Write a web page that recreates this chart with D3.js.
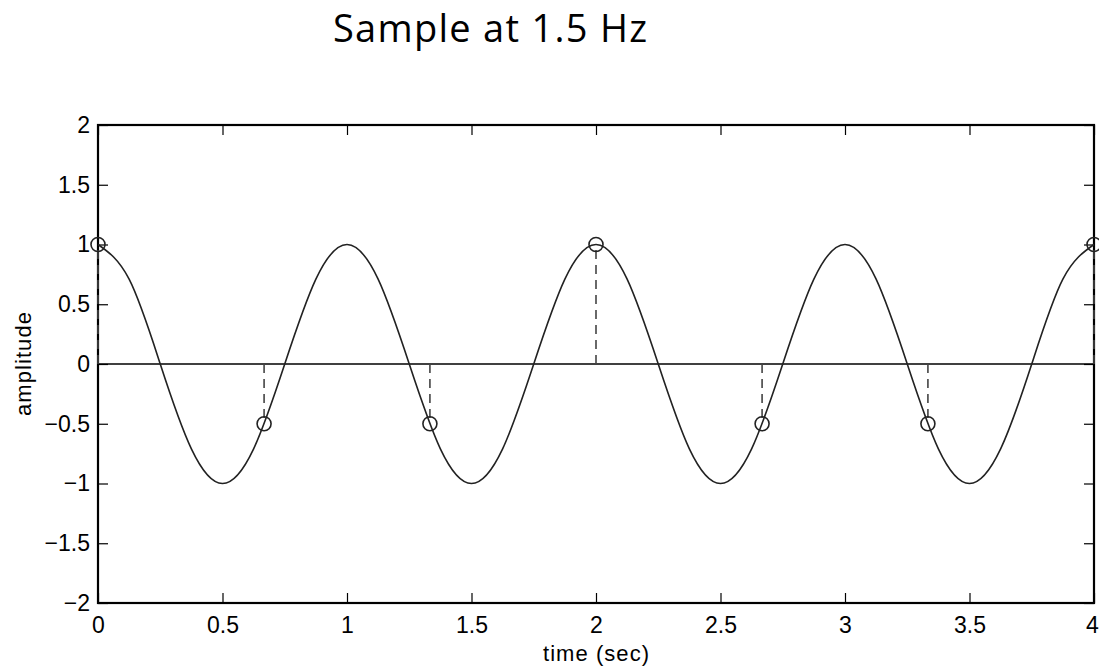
<!DOCTYPE html>
<html>
<head>
<meta charset="utf-8">
<script src="https://cdn.jsdelivr.net/npm/d3@7"></script>
<style>
  body { margin: 0; background: #fff; }
  svg text { font-family: "Liberation Sans", Arial, sans-serif; }
</style>
</head>
<body>
<div id="chart"></div>
<script>
// Continuous signal, every 0.125 s
const curveTimes = [0, 0.125, 0.25, 0.375, 0.5, 0.625, 0.75, 0.875,
    1, 1.125, 1.25, 1.375, 1.5, 1.625, 1.75, 1.875,
    2, 2.125, 2.25, 2.375, 2.5, 2.625, 2.75, 2.875,
    3, 3.125, 3.25, 3.375, 3.5, 3.625, 3.75, 3.875, 4];
const curveValues = [1, 0.71, 0, -0.71, -1, -0.71, 0, 0.71,
    1, 0.71, 0, -0.71, -1, -0.71, 0, 0.71,
    1, 0.71, 0, -0.71, -1, -0.71, 0, 0.71,
    1, 0.71, 0, -0.71, -1, -0.71, 0, 0.71, 1];

// Samples (circles + dashed stems)
const sampleTimes = [0, 0.667, 1.333, 2, 2.667, 3.333, 4];
const sampleValues = [1, -0.5, -0.5, 1, -0.5, -0.5, 1];

const xTicks = [0, 0.5, 1, 1.5, 2, 2.5, 3, 3.5, 4];
const yTicks = [-2, -1.5, -1, -0.5, 0, 0.5, 1, 1.5, 2];

const W = 1099, H = 670;
const plot = { left: 98, right: 1094, top: 125, bottom: 603 };

const svg = d3.select('#chart').append('svg')
    .attr('width', W)
    .attr('height', H);

const x = d3.scaleLinear().domain([0, 4]).range([plot.left, plot.right]);
const y = d3.scaleLinear().domain([-2, 2]).range([plot.bottom, plot.top]);

const fmt = d => (d < 0 ? '\u2212' + Math.abs(d) : '' + d);

// Title
svg.append('text')
    .attr('x', 490)
    .attr('y', 42)
    .attr('text-anchor', 'middle')
    .style('font-family', '"Open Sans", "Noto Sans", sans-serif')
    .style('font-size', '38px')
    .attr('textLength', 314)
    .text('Sample at 1.5 Hz');

// Axes with inward ticks
const tickLen = 10;
const axisStyle = g => {
    g.select('.domain').remove();
    g.selectAll('line').attr('stroke', '#000').attr('stroke-width', 1.2);
};

svg.append('g')
    .attr('transform', `translate(0,${plot.bottom})`)
    .call(d3.axisBottom(x).tickValues(xTicks).tickFormat(fmt).tickSizeInner(-tickLen).tickPadding(14))
    .call(axisStyle)
    .selectAll('text')
    .style('font-size', '23px')
    .attr('fill', '#000')
    .attr('dx', d => (d === 4 ? -2 : 0)); // last label sits on the edge

svg.append('g')
    .attr('transform', `translate(0,${plot.top})`)
    .call(d3.axisTop(x).tickValues(xTicks).tickFormat('').tickSizeInner(-tickLen))
    .call(axisStyle);

svg.append('g')
    .attr('transform', `translate(${plot.left},0)`)
    .call(d3.axisLeft(y).tickValues(yTicks).tickFormat(fmt).tickSizeInner(-tickLen).tickPadding(8))
    .call(axisStyle)
    .selectAll('text')
    .style('font-size', '23px')
    .attr('fill', '#000');

svg.append('g')
    .attr('transform', `translate(${plot.right},0)`)
    .call(d3.axisRight(y).tickValues(yTicks).tickFormat('').tickSizeInner(-tickLen))
    .call(axisStyle);

// Frame
svg.append('rect')
    .attr('x', plot.left)
    .attr('y', plot.top)
    .attr('width', plot.right - plot.left)
    .attr('height', plot.bottom - plot.top)
    .attr('fill', 'none')
    .attr('stroke', '#000')
    .attr('stroke-width', 2.2);

// Zero line
svg.append('line')
    .attr('x1', x(0)).attr('x2', x(4))
    .attr('y1', y(0)).attr('y2', y(0))
    .attr('stroke', '#000')
    .attr('stroke-width', 1.6);

// Dashed stems
svg.append('g')
    .selectAll('line')
    .data(sampleTimes)
    .enter().append('line')
    .attr('x1', d => x(d)).attr('x2', d => x(d))
    .attr('y1', y(0))
    .attr('y2', (d, i) => y(sampleValues[i]))
    .attr('stroke', '#444')
    .attr('stroke-width', 1.6)
    .attr('stroke-dasharray', '9,6');

// Continuous curve
const line = d3.line()
    .x((d, i) => x(curveTimes[i]))
    .y(d => y(d))
    .curve(d3.curveNatural);

svg.append('path')
    .datum(curveValues)
    .attr('d', line)
    .attr('fill', 'none')
    .attr('stroke', '#222')
    .attr('stroke-width', 1.6);

// Sample circles
svg.append('g')
    .selectAll('circle')
    .data(sampleTimes)
    .enter().append('circle')
    .attr('cx', d => x(d))
    .attr('cy', (d, i) => y(sampleValues[i]))
    .attr('r', 7)
    .attr('fill', 'none')
    .attr('stroke', '#222')
    .attr('stroke-width', 1.6);

// Axis labels
svg.append('text')
    .attr('x', 596)
    .attr('y', 661)
    .attr('text-anchor', 'middle')
    .style('font-size', '22px')
    .attr('textLength', 106)
    .text('time (sec)');

svg.append('text')
    .attr('transform', `translate(31,${y(0)}) rotate(-90)`)
    .attr('text-anchor', 'middle')
    .style('font-size', '22px')
    .attr('textLength', 104)
    .text('amplitude');
</script>
</body>
</html>
